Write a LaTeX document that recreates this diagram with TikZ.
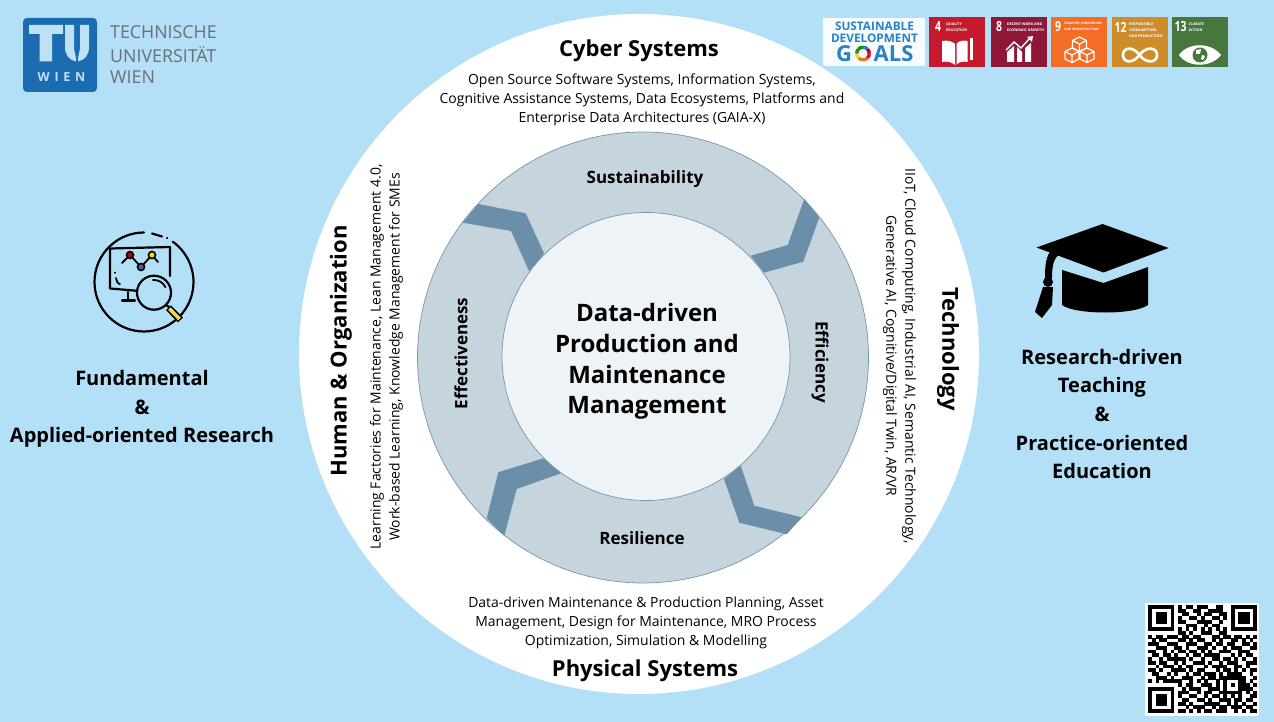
\documentclass[tikz,border=0pt]{standalone}
\usepackage{fontspec}
\setmainfont{Open Sans}
\usetikzlibrary{calc}
\definecolor{skyback}{RGB}{179,224,246}
\definecolor{ringfill}{RGB}{198,212,222}
\definecolor{ringedge}{RGB}{118,150,172}
\definecolor{chevfill}{RGB}{107,143,168}
\definecolor{corefill}{RGB}{238,243,247}
\definecolor{tublue}{RGB}{27,108,176}
\definecolor{tulight}{RGB}{190,225,245}
\definecolor{tugray}{RGB}{105,112,118}
\definecolor{sdgblue}{RGB}{40,130,195}
\definecolor{sdgfour}{RGB}{197,25,45}
\definecolor{sdgeight}{RGB}{143,24,56}
\definecolor{sdgnine}{RGB}{243,109,37}
\definecolor{sdgtwelve}{RGB}{207,141,42}
\definecolor{sdgthirteen}{RGB}{72,119,62}
\tikzset{
  disc/.style      = {circle, inner sep=0pt, fill=#1},
  title/.style     = {align=center, inner sep=0pt, font=\fontsize{22}{26}\selectfont\bfseries},
  small/.style     = {align=center, inner sep=0pt, font=\fontsize{13.95}{19}\selectfont},
  cycle/.style     = {align=center, inner sep=0pt, font=\fontsize{17}{20}\selectfont\bfseries},
  side/.style      = {align=center, inner sep=0pt, font=\fontsize{20}{28.7}\selectfont\bfseries},
  tile/.style      = {anchor=north west, inner sep=0pt, minimum width=56pt, minimum height=50pt, fill=#1},
  tilenum/.style   = {inner sep=0pt, text=white, xscale=.75, transform shape, font=\fontsize{14}{14}\selectfont\bfseries},
  tiletext/.style  = {anchor=west, align=left, inner sep=0pt, text=white, font=\fontsize{3.6}{5.8}\selectfont\bfseries},
  chev/.style      = {fill=chevfill},
  icon/.style      = {line width=2.2pt, line cap=round, line join=round},
  whiteicon/.style = {white, line width=1.2pt, line join=round},
  sdgword/.style   = {inner sep=0pt, text=sdgblue, font=\fontsize{11.8}{12}\selectfont\bfseries},
  sdgbig/.style    = {inner sep=0pt, text=sdgblue, font=\fontsize{22}{22}\selectfont\bfseries},
  tuword/.style    = {anchor=west, inner sep=0pt, text=tugray, font=\fontsize{17.8}{18}\selectfont},
}
\makeatletter
\newcount\qrcol
\newcommand{\qrrow}[2]{\qrcol=0 \@tfor\qrbit:=#1\do{\ifnum\qrbit=1 \fill ({1148+3.76*\the\qrcol},{605+3.72*#2}) rectangle ++(3.86,3.82);\fi \advance\qrcol by 1 }}
\makeatother
\begin{document}
\begin{tikzpicture}[x=1pt,y=-1pt]
  \useasboundingbox (0,0) rectangle (1274,722);
  \fill[skyback] (0,0) rectangle (1274,722);

  \node[disc=white, minimum size=680pt] (disk) at (639,354) {};
  \node[disc=ringfill, draw=ringedge, line width=.7pt, minimum size=451pt] (ring) at (643,357.5) {};
  \fill[chev] (804.3,199) -- (819.3,217.7) -- (803.3,261.7) -- (764,272.7) -- (750.7,255.7) -- (787.7,245) -- cycle;
  \fill[chev] (478.3,204) -- (525.7,213.3) -- (544,253.3) -- (529.3,271.7) -- (511,231) -- (462.7,222.7) -- cycle;
  \fill[chev] (543.3,458.3) -- (561,473.3) -- (516.7,489) -- (504.3,535.7) -- (486.7,518.3) -- (498.3,472.3) -- cycle;
  \fill[chev] (740.7,465.7) -- (754.3,505.7) -- (801.7,517.3) -- (786.7,534.3) -- (739.3,522.7) -- (724,479) -- cycle;
  \node[disc=corefill, draw=ringedge, line width=.7pt, minimum size=288pt] (core) at (646,356.5) {};

  \node[align=center, inner sep=0pt, font=\fontsize{24}{30.8}\selectfont\bfseries] (coretext) at (647,361.5) {Data-driven\\Production and\\Maintenance\\Management};
  \node[cycle] (sustain) at (645,179) {Sustainability};
  \node[cycle] (resil) at (642,538.5) {Resilience};
  \node[cycle, rotate=90] (effect) at (461,353.5) {Effectiveness};
  \node[cycle, rotate=-90] (effic) at (820,362) {Efficiency};

  \node[title] (cyber) at (639,51) {Cyber Systems};
  \node[small] (cybertext) at (642,100) {Open Source Software Systems, Information Systems,\\Cognitive Assistance Systems, Data Ecosystems, Platforms and\\Enterprise Data Architectures (GAIA-X)};
  \node[title] (phys) at (645,671) {Physical Systems};
  \node[small] (phystext) at (646,623) {Data-driven Maintenance \& Production Planning, Asset\\Management, Design for Maintenance, MRO Process\\Optimization, Simulation \& Modelling};
  \node[title, rotate=90] (human) at (341,351) {Human \& Organization};
  \node[small, rotate=90] (humantext) at (386.5,357) {Learning Factories for Maintenance, Lean Management 4.0,\\Work-based Learning, Knowledge Management for SMEs};
  \node[title, rotate=-90] (tech) at (948,349) {Technology};
  \node[small, rotate=-90] (techtext) at (899.5,356) {IIoT, Cloud Computing, Industrial AI, Semantic Technology,\\Generative AI, Cognitive/Digital Twin, AR/VR};

  \node[side] (research) at (142,409) {Fundamental\\\&\\Applied-oriented Research};
  \node[side] (teaching) at (1102,414) {Research-driven\\Teaching\\\&\\Practice-oriented\\Education};

  \fill[tublue, rounded corners=4pt] (23,18) rectangle (97,92);
  \fill[tulight] (29,25) -- (63,25) -- (63,34) -- (52,34) -- (52,61.5) -- (39.5,61.5) -- (39.5,34) -- (29,34) -- cycle;
  \fill[tulight] (65,25) -- (74,25) -- (74,47) .. controls (74,52) and (76,54) .. (76,61.5) .. controls (69,60) and (65,55) .. (65,47) -- cycle;
  \fill[tulight] (80,25) -- (89,25) -- (89,47) .. controls (89,55) and (85,60) .. (78,61.5) .. controls (78,54) and (80,52) .. (80,47) -- cycle;
  \node[inner sep=0pt, text=tulight, font=\fontsize{12.5}{12.5}\selectfont\bfseries\addfontfeature{LetterSpace=38}] (wien) at (61.5,77) {WIEN};
  \node[tuword] (tuone) at (110,32) {TECHNISCHE};
  \node[tuword] (tutwo) at (110,55) {UNIVERSITÄT};
  \node[tuword] (tuthree) at (110,77) {WIEN};

  \fill[white!92!skyback] (823,18) rectangle (925,66);
  \node[sdgword] (sdgone) at (874.5,26.5) {SUSTAINABLE};
  \node[sdgword] (sdgtwo) at (874.5,38) {DEVELOPMENT};
  \node[sdgbig] (sdgg) at (844,54) {G};
  \node[sdgbig] (sdgals) at (893.5,54) {ALS};
  \foreach \ang/\col in {0/sdgfour,45/sdgnine,90/sdgtwelve,135/yellow!80!orange,180/sdgthirteen,225/green!60!black,270/sdgblue,315/purple}
    \draw[\col, line width=3.4pt] ($(863,53.5)+(\ang:6.3)$) arc[start angle=\ang, end angle=\ang+45, radius=6.3];

  \node[tile=sdgfour] (tfour) at (929,17) {};
  \node[tile=sdgeight] (teight) at (991,17) {};
  \node[tile=sdgnine] (tnine) at (1051,17) {};
  \node[tile=sdgtwelve] (ttwelve) at (1112,17) {};
  \node[tile=sdgthirteen] (tthirteen) at (1172,17) {};
  \node[tilenum] (nfour) at (938,27) {4};
  \node[tiletext] at (946,27) (lfour) {QUALITY\\EDUCATION};
  \node[tilenum] (neight) at (999,27) {8};
  \node[tiletext] at (1007,27) (leight) {DECENT WORK AND\\ECONOMIC GROWTH};
  \node[tilenum] (nnine) at (1058,27) {9};
  \node[tiletext, font=\fontsize{3.1}{5.8}\selectfont\bfseries] at (1064,26) (lnine) {INDUSTRY, INNOVATION\\AND INFRASTRUCTURE};
  \node[tilenum] (ntwelve) at (1120.5,27) {12};
  \node[tiletext] at (1129,30) (ltwelve) {RESPONSIBLE\\CONSUMPTION\\AND PRODUCTION};
  \node[tilenum] (nthirteen) at (1180.5,27) {13};
  \node[tiletext] at (1188.5,27.5) (lthirteen) {CLIMATE\\ACTION};

  \fill[white] (942,41) .. controls (947,40) and (952,41) .. (955,44) -- (955,65) .. controls (952,62) and (947,61) .. (942,62) -- cycle;
  \fill[white] (967.5,41) .. controls (963,40) and (958,41) .. (956.5,44) -- (956.5,65) .. controls (958,62) and (963,61) .. (967.5,62) -- cycle;
  \fill[white] (969.5,38) rectangle (972.5,60);

  \fill[white] (1007,62) -- (1007,52) -- (1014,46) -- (1014,62) -- cycle;
  \fill[white] (1017,62) -- (1017,47) -- (1022,52) -- (1022,62) -- cycle;
  \fill[white] (1025,62) -- (1025,48) -- (1031,43) -- (1031,62) -- cycle;
  \draw[white, line width=1.4pt] (1006,50) -- (1014,42) -- (1021,48) -- (1030,38);
  \fill[white] (1033,36) -- (1027,37) -- (1032,42) -- cycle;

  \foreach \cx/\cy in {1079.5/43,1072/54,1087/54}
    \draw[whiteicon] (\cx,\cy-6) -- (\cx+7,\cy-2.5) -- (\cx+7,\cy+5) -- (\cx,\cy+8.5) -- (\cx-7,\cy+5) -- (\cx-7,\cy-2.5) -- cycle (\cx-7,\cy-2.5) -- (\cx,\cy+1) -- (\cx+7,\cy-2.5) (\cx,\cy+1) -- (\cx,\cy+8.5);

  \draw[white, line width=2.6pt] (1139.5,55) .. controls (1133,46) and (1123,47) .. (1123,55) .. controls (1123,63) and (1133,64) .. (1139.5,55) .. controls (1146,46) and (1157,47) .. (1157,55) .. controls (1157,63) and (1146,64) .. (1139.5,55) -- cycle;

  \fill[white] (1179,55) .. controls (1188,42) and (1211,42) .. (1221,55) .. controls (1211,68) and (1188,68) .. (1179,55) -- cycle;
  \node[disc=sdgthirteen, minimum size=15pt] (globe) at (1200,55) {};
  \fill[white] (1196,50) -- (1201,49) -- (1200,54) -- (1196,54) -- cycle (1202,55) -- (1205,56) -- (1203,60) -- (1201,59) -- cycle;

  \draw[icon] (144,232.5) arc[start angle=-90, end angle=-414.6, radius=49.5];
  \draw[icon] (152,233.5) -- (162,236.5) (167,238) -- (167.2,238.1);
  \draw[icon] (170,276) -- (170,247) -- (110,248.5) -- (110,288.5) -- (136,290.7);
  \draw[icon] (128.3,292) -- (128.3,300) (122,300.5) -- (135,300.5);
  \draw[icon, line width=1.8pt] (115,272.5) -- (115,273) (116,278) .. controls (116,281) and (118,284) .. (120,284);
  \draw[icon, line width=1.8pt] (122,263) -- (130,255) -- (141,267) -- (152,255) -- (158,262);
  \node[disc=red!70!black, draw=black, line width=1.6pt, minimum size=7pt] (dotone) at (130,255) {};
  \node[disc=blue!30!gray, draw=black, line width=1.6pt, minimum size=7pt] (dottwo) at (141,267) {};
  \node[disc=yellow!80!orange, draw=black, line width=1.6pt, minimum size=7pt] (dotthree) at (152,255) {};
  \node[disc=skyback, draw=black, line width=2.2pt, minimum size=34pt] (lens) at (154,292.7) {};
  \draw[line width=1.8pt, line cap=round] (152.9,280) arc[start angle=-95, end angle=-25, radius=12.7];
  \draw[icon] (166,305) -- (172,309);
  \draw[line width=7pt] (168.5,307.7) -- (180.5,320);
  \draw[yellow!60!orange!70!white, line width=3.6pt] (169.5,308.7) -- (179.5,319);

  \fill (1102.5,224) -- (1168.5,248) -- (1103.5,272.5) -- (1036.5,247.5) -- cycle;
  \fill (1062,270) -- (1103.5,283) -- (1148,267) -- (1148,305) .. controls (1135,315) and (1075,315) .. (1062,305) -- cycle;
  \fill (1052,250) -- (1060,254) .. controls (1053,258) and (1052,268) .. (1052,278) -- (1045,278) .. controls (1045,265) and (1046,255) .. (1052,250) -- cycle;
  \node[disc=black, minimum size=10pt] (knob) at (1048,282) {};
  \fill (1043,287) -- (1053,287) -- (1052,305) -- (1042,318) -- (1035,312) -- cycle;

  \fill[white] (1145,603) rectangle (1259,716);
  \foreach \bits [count=\rownum from 0] in {
    11111110101101110011001111111,
    10000010110011001111001000001,
    10111010011001011001101011101,
    10111010100110100110101011101,
    10111010110001111001001011101,
    10000010001110010110001000001,
    11111110101010101010101111111,
    00000000110100111001100000000,
    10110111011011000110110110101,
    01011000110101100101001101010,
    11100111001110011011011001101,
    00111001101001110100101110011,
    11001010110110101001110011100,
    01101101001011011110001010110,
    10010111110100100110110101001,
    11011001010011101001011100111,
    00101110101100010111100110100,
    11010011110101100010110101011,
    01100101001011011101011110010,
    00111010011100101101111111001,
    10101111100101010010100011010,
    00000000101100111010101011101,
    11111110010111001110100011110,
    10000010111001011001111110101,
    10111010100110010110101010011,
    10111010011001101001110110110,
    10111010110100011110010101001,
    10000010001011100101101110110,
    11111110110101011011100101011}
    {\expandafter\qrrow\expandafter{\bits}{\rownum}}
\end{tikzpicture}
\end{document}
